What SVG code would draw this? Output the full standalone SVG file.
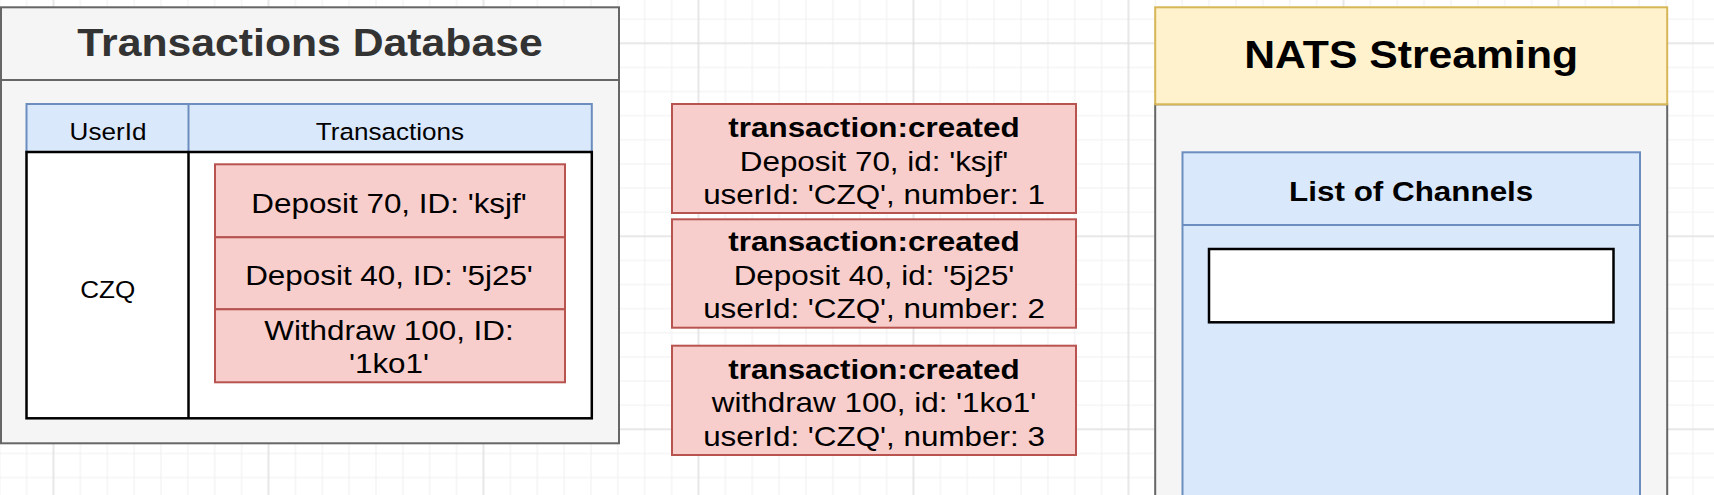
<svg xmlns="http://www.w3.org/2000/svg" width="1714" height="495" viewBox="0 0 1714 495">
  <defs>
    <pattern id="gridMinor" patternUnits="userSpaceOnUse" x="-1.25" y="-5.9" width="26.875" height="24.125">
      <path d="M1 0 V24.125 M0 1 H26.875" fill="none" stroke="#f0f0f0" stroke-width="1"/>
    </pattern>
    <pattern id="gridMajor" patternUnits="userSpaceOnUse" x="52.5" y="42.3" width="215" height="193">
      <path d="M1 0 V193 M0 1 H215" fill="none" stroke="#d9d9d9" stroke-width="1"/>
    </pattern>
    <style>
      text { font-family: "Liberation Sans", Arial, Helvetica, sans-serif; text-anchor: middle; fill: #000; }
      .title { font-size: 38.5px; font-weight: bold; }
      .hdr { font-size: 23.5px; }
      .item { font-size: 28.3px; }
      .bold { font-weight: bold; }
      .grayBox { fill: #f5f5f5; stroke: #666666; stroke-width: 2; }
      .redBox { fill: #f8cecc; stroke: #b85450; stroke-width: 2; }
      .blueBox { fill: #dae8fc; stroke: #6c8ebf; stroke-width: 2; }
      .yellowBox { fill: #fff2cc; stroke: #d6b656; stroke-width: 2; }
      .whiteBox { fill: #ffffff; stroke: #000000; stroke-width: 2.5; }
    </style>
  </defs>

  <!-- background grid -->
  <rect x="0" y="0" width="1714" height="495" fill="#ffffff"/>
  <rect x="0" y="0" width="1714" height="495" fill="url(#gridMinor)"/>
  <rect x="0" y="0" width="1714" height="495" fill="url(#gridMajor)"/>

  <!-- Transactions Database -->
  <g id="transactions-database">
    <rect class="grayBox" x="1" y="7.3" width="618" height="436"/>
    <line x1="1" y1="80" x2="619" y2="80" stroke="#666666" stroke-width="2"/>
    <text class="title" style="fill:#333333" transform="translate(310,56) scale(1.11,1)">Transactions Database</text>
  </g>

  <g id="table">
    <rect class="blueBox" x="26.5" y="104" width="565.3" height="48"/>
    <line x1="188.5" y1="104" x2="188.5" y2="152" stroke="#6c8ebf" stroke-width="2"/>
    <rect x="26.5" y="152" width="565.3" height="266.3" fill="#ffffff" stroke="#000000" stroke-width="2.5"/>
    <line x1="188.5" y1="152" x2="188.5" y2="418.3" stroke="#000000" stroke-width="2.5"/>
    <text class="hdr" transform="translate(108,140) scale(1.11,1)">UserId</text>
    <text class="hdr" transform="translate(390,140) scale(1.11,1)">Transactions</text>
    <text class="hdr" transform="translate(107.7,297.5) scale(1.11,1)">CZQ</text>
  </g>

  <g id="tx-list">
    <rect class="redBox" x="215" y="164.3" width="350" height="73"/>
    <rect class="redBox" x="215" y="237.3" width="350" height="72"/>
    <rect class="redBox" x="215" y="309.3" width="350" height="73"/>
    <text class="item" transform="translate(389,213) scale(1.11,1)">Deposit 70, ID: 'ksjf'</text>
    <text class="item" transform="translate(389,285) scale(1.11,1)">Deposit 40, ID: '5j25'</text>
    <text class="item" transform="translate(389,340) scale(1.11,1)">Withdraw 100, ID:</text>
    <text class="item" transform="translate(389,373.3) scale(1.11,1)">'1ko1'</text>
  </g>

  <!-- Events -->
  <g id="event-1">
    <rect class="redBox" x="672" y="104" width="404" height="109"/>
    <text class="item bold" transform="translate(874,137.3) scale(1.11,1)">transaction:created</text>
    <text class="item" transform="translate(874,170.5) scale(1.11,1)">Deposit 70, id: 'ksjf'</text>
    <text class="item" transform="translate(874,203.5) scale(1.11,1)">userId: 'CZQ', number: 1</text>
  </g>

  <g id="event-2">
    <rect class="redBox" x="672" y="219.3" width="404" height="108.4"/>
    <text class="item bold" transform="translate(874,251.3) scale(1.11,1)">transaction:created</text>
    <text class="item" transform="translate(874,284.5) scale(1.11,1)">Deposit 40, id: '5j25'</text>
    <text class="item" transform="translate(874,318) scale(1.11,1)">userId: 'CZQ', number: 2</text>
  </g>

  <g id="event-3">
    <rect class="redBox" x="672" y="345.7" width="404" height="109.3"/>
    <text class="item bold" transform="translate(874,379) scale(1.11,1)">transaction:created</text>
    <text class="item" transform="translate(874,412.3) scale(1.11,1)">withdraw 100, id: '1ko1'</text>
    <text class="item" transform="translate(874,445.7) scale(1.11,1)">userId: 'CZQ', number: 3</text>
  </g>

  <!-- NATS Streaming -->
  <g id="nats-streaming">
    <rect class="grayBox" x="1155.2" y="104.3" width="512" height="400"/>
    <rect class="yellowBox" x="1155.2" y="7.3" width="512" height="97"/>
    <text class="title" transform="translate(1411.2,68.3) scale(1.11,1)">NATS Streaming</text>
  </g>

  <g id="list-of-channels">
    <rect class="blueBox" x="1182.5" y="152.3" width="457.5" height="360"/>
    <line x1="1182.5" y1="225" x2="1640" y2="225" stroke="#6c8ebf" stroke-width="2"/>
    <text class="item bold" transform="translate(1411.2,201) scale(1.11,1)">List of Channels</text>
  </g>

  <g id="channel-slot">
    <rect class="whiteBox" x="1209" y="249" width="404.5" height="73.3"/>
  </g>

  <g id="connectors"></g>
</svg>
